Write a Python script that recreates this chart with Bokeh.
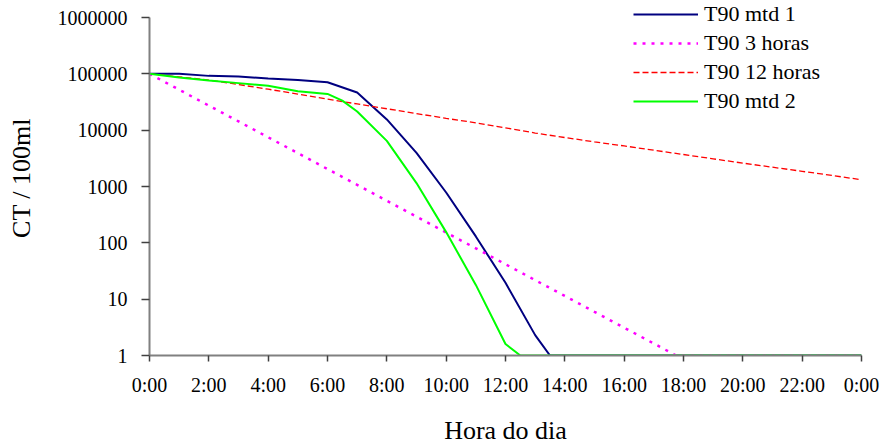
from bokeh.plotting import figure
from bokeh.models import FixedTicker, PrintfTickFormatter, Legend, LegendItem
from bokeh.embed import file_html
from bokeh.resources import INLINE

# ---- data ----
hours_mtd1 = [0, 1, 2, 3, 4, 5, 6, 7, 8, 9, 10, 11, 12, 13, 13.5, 24]
ct_mtd1 = [100000, 100000, 92000, 89500, 83000, 78000, 71000, 46500, 15500,
           3950, 783, 130, 19.5, 2.3, 1, 1]

hours_3h = [0, 1, 2, 3, 4, 5, 6, 7, 8, 9, 10, 11, 12, 13, 14, 15, 16, 17, 17.75, 24]
ct_3h = [100000, 52300, 27300, 14300, 7470, 3910, 2040, 1070, 558, 292, 152,
         80, 41.7, 21.8, 11.4, 5.95, 3.11, 1.63, 1, 1]

hours_12h = list(range(0, 25))
ct_12h = [100000, 88100, 77600, 64600, 53300, 43700, 35500, 29200, 24000, 19700,
          16200, 13500, 11000, 8900, 7400, 6200, 5250, 4400, 3700, 3100, 2600,
          2200, 1860, 1570, 1320]

hours_mtd2 = [0, 1, 2, 3, 4, 5, 6, 6.5, 7, 8, 9, 10, 11, 12, 12.5, 24]
ct_mtd2 = [100000, 86000, 76400, 68400, 61200, 49000, 44000, 33500, 21500, 6450,
           1150, 155, 17.9, 1.6, 1, 1]

series_names = ["T90 mtd 1", "T90 3 horas", "T90 12 horas", "T90 mtd 2"]

x_ticks = [0, 2, 4, 6, 8, 10, 12, 14, 16, 18, 20, 22, 24]
x_tick_labels = ["0:00", "2:00", "4:00", "6:00", "8:00", "10:00", "12:00",
                 "14:00", "16:00", "18:00", "20:00", "22:00", "0:00"]
y_ticks = [1, 10, 100, 1000, 10000, 100000, 1000000]
y_axis_min = 1
y_axis_max = 1000000
y_view_max = 2003500  # head-room above the axis for the legend

FONT = "Liberation Serif"

p = figure(frame_width=712, frame_height=355, min_border_left=149,
           min_border_right=19, min_border_top=0, min_border_bottom=85,
           y_axis_type="log", x_range=(0, 24), y_range=(y_axis_min, y_view_max),
           output_backend="svg", toolbar_location=None)

p.outline_line_color = None
p.xgrid.grid_line_color = None
p.ygrid.grid_line_color = None
p.background_fill_color = "white"
p.border_fill_color = "white"

r1 = p.line(hours_mtd1, ct_mtd1, line_color="#000080", line_width=2)
r2 = p.line(hours_3h, ct_3h, line_color="#FF00FF", line_width=2.5, line_dash="3 6")
r3 = p.line(hours_12h, ct_12h, line_color="#FF0000", line_width=1.3, line_dash="6 3")
r4 = p.line(hours_mtd2, ct_mtd2, line_color="#00FF00", line_width=2)

for ax in (p.xaxis[0], p.yaxis[0]):
    ax.axis_line_color = "#808080"
    ax.axis_line_width = 2
    ax.major_tick_line_color = "#404040"
    ax.major_tick_line_width = 1.5
    ax.major_tick_in = 0
    ax.minor_tick_line_color = None
    ax.major_label_text_font = FONT
    ax.major_label_text_font_size = "20px"
    ax.major_label_text_color = "black"
    ax.axis_label_text_font = FONT
    ax.axis_label_text_font_size = "26px"
    ax.axis_label_text_font_style = "normal"
    ax.axis_label_text_color = "black"

p.xaxis.ticker = FixedTicker(ticks=x_ticks)
p.xaxis.major_label_overrides = {t: lab for t, lab in zip(x_ticks, x_tick_labels)}
p.xaxis.major_tick_out = 6
p.xaxis.major_label_standoff = 12
p.xaxis.axis_label = "Hora do dia"
p.xaxis.axis_label_standoff = 17

p.yaxis.ticker = FixedTicker(ticks=y_ticks)
p.yaxis.bounds = (y_axis_min, y_axis_max)
p.yaxis.formatter = PrintfTickFormatter(format="%d")
p.yaxis.major_tick_out = 8
p.yaxis.major_label_standoff = 14
p.yaxis.axis_label = "CT / 100ml"
p.yaxis.axis_label_standoff = 19

legend = Legend(items=[
    LegendItem(label=series_names[0], renderers=[r1]),
    LegendItem(label=series_names[1], renderers=[r2]),
    LegendItem(label=series_names[2], renderers=[r3]),
    LegendItem(label=series_names[3], renderers=[r4]),
], location=(484, 241))
legend.label_text_font = FONT
legend.label_text_font_size = "22px"
legend.label_text_color = "black"
legend.glyph_width = 65
legend.glyph_height = 26
legend.label_height = 26
legend.label_standoff = 6
legend.spacing = 3
legend.padding = 0
legend.margin = 0
legend.border_line_alpha = 0
legend.background_fill_alpha = 0
p.add_layout(legend, "center")

open("out.html", "w").write(file_html(p, INLINE))
